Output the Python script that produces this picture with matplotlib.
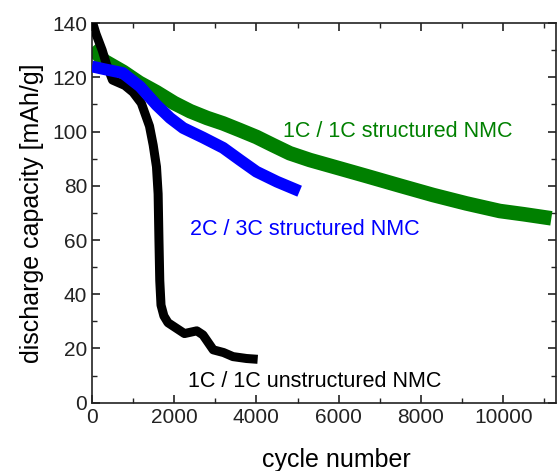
import matplotlib
matplotlib.use("Agg")
import matplotlib.pyplot as plt
from matplotlib.ticker import MultipleLocator

# values
green_cycles = [0, 300, 760, 1150, 1570, 2000, 2390, 2800, 3190, 3600, 4000, 4400, 4810,
                5300, 6000, 6675, 7500, 8294, 9100, 9915, 10500, 11170]
green_cap = [131, 126, 122, 118, 114.5, 110.5, 107.5, 105, 103, 100.5, 98, 95, 92,
             89.5, 86.5, 83.6, 80, 76.6, 73.5, 70.7, 69.5, 68]

blue_cycles = [0, 300, 750, 1170, 1570, 1900, 2220, 2700, 3190, 3600, 4000, 4500, 5050]
blue_cap = [124, 123, 121.6, 116.6, 109.8, 105, 101.3, 97.8, 94, 89.5, 85.2, 81.5, 78]

black_cycles = [0, 100, 250, 350, 500, 800, 1000, 1200, 1400, 1490, 1570, 1610, 1630,
                1650, 1680, 1750, 1850, 1950, 2100, 2250, 2400, 2550, 2700, 2950, 3200,
                3430, 3760, 4030]
black_cap = [141, 136, 130, 125, 119, 117, 114.5, 110.5, 102, 95, 87, 77, 60,
             45, 36, 32, 29.5, 28.5, 27, 25.5, 26, 26.5, 25, 19.5, 18.5,
             17, 16.3, 16]

labels = ["1C / 1C structured NMC", "2C / 3C structured NMC", "1C / 1C unstructured NMC"]

plt.rcParams['font.family'] = ['Liberation Sans', 'DejaVu Sans']

fig = plt.figure(figsize=(5.57, 4.71), dpi=100)
ax = fig.add_axes([0.165, 0.145, 0.833, 0.806])

ax.plot(green_cycles, green_cap, color='#008000', linewidth=10.5, solid_capstyle='butt', zorder=2)
ax.plot(black_cycles, black_cap, color='black', linewidth=6.5, solid_capstyle='butt',
        solid_joinstyle='round', zorder=3)
ax.plot(blue_cycles, blue_cap, color='#0000FF', linewidth=8.5, solid_capstyle='butt', zorder=4)

ax.text(4640, 100, labels[0], color='#008000', fontsize=15.5, ha='left', va='center')
ax.text(2380, 64, labels[1], color='#0000FF', fontsize=15.5, ha='left', va='center')
ax.text(2330, 8, labels[2], color='black', fontsize=15.5, ha='left', va='center')

ax.set_xlim(0, 11280)
ax.set_ylim(0, 140)
ax.xaxis.set_major_locator(MultipleLocator(2000))
ax.xaxis.set_minor_locator(MultipleLocator(1000))
ax.yaxis.set_major_locator(MultipleLocator(20))
ax.yaxis.set_minor_locator(MultipleLocator(10))

ax.tick_params(which='both', direction='in', top=True, right=True, labelsize=15, colors='#222222')
ax.tick_params(which='major', length=6, width=1.2)
ax.tick_params(which='minor', length=3.5, width=1.0)
for s in ax.spines.values():
    s.set_linewidth(1.2)
    s.set_color('#222222')

ax.set_xlabel('cycle number', fontsize=18)
ax.xaxis.set_label_coords(0.526, -0.118)
ax.set_ylabel('discharge capacity [mAh/g]', fontsize=18, labelpad=6)

fig.savefig('out.png', dpi=100)
